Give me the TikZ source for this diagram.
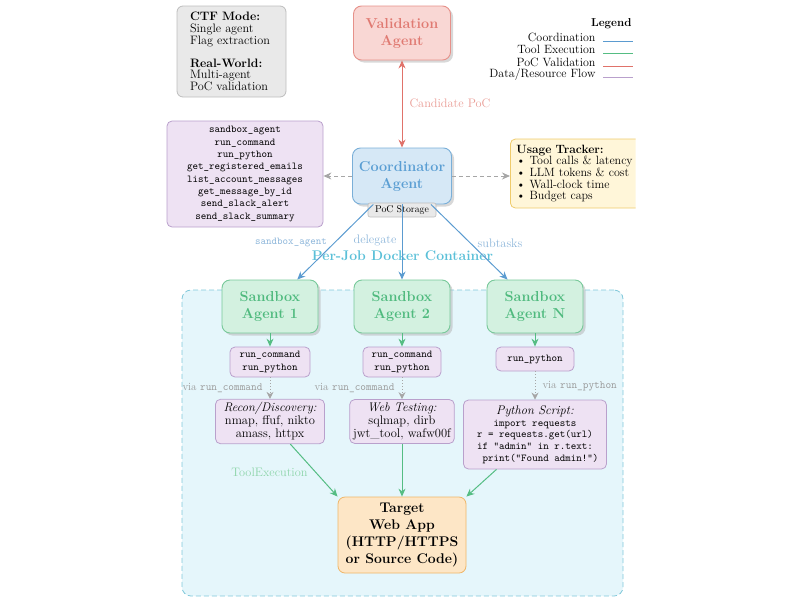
\documentclass[tikz,border=0pt]{standalone}
\usepackage{fontspec}
\usetikzlibrary{arrows.meta,shadows}
\definecolor{cblue}{HTML}{5B9BD0}
\definecolor{cbluetext}{HTML}{5A9ED3}
\definecolor{cbluefill}{HTML}{D6E8F6}
\definecolor{cblueline}{HTML}{7AAFD8}
\definecolor{cbluelabel}{HTML}{8DB6DA}
\definecolor{cred}{HTML}{E0726A}
\definecolor{credline}{HTML}{E6918A}
\definecolor{credtext}{HTML}{E07A72}
\definecolor{credfill}{HTML}{F9D7D4}
\definecolor{credlabel}{HTML}{E99C95}
\definecolor{cgreen}{HTML}{55BD83}
\definecolor{cgreenline}{HTML}{78C99A}
\definecolor{cgreentext}{HTML}{4FBA7E}
\definecolor{cgreenfill}{HTML}{D3F1E0}
\definecolor{cgreenlabel}{HTML}{8ED5AA}
\definecolor{cpurple}{HTML}{B9A0CC}
\definecolor{cpurplefill}{HTML}{EEE2F3}
\definecolor{cgrayfill}{HTML}{E9E9E9}
\definecolor{cgrayline}{HTML}{BDBDBD}
\definecolor{cyellowfill}{HTML}{FFF6D9}
\definecolor{cyellowline}{HTML}{EFCB6B}
\definecolor{corangefill}{HTML}{FDE6C6}
\definecolor{corangeline}{HTML}{EFB668}
\definecolor{ccyan}{HTML}{5BC0D8}
\definecolor{ccyanfill}{HTML}{E5F6FB}
\definecolor{ccyanline}{HTML}{80C8DA}
\definecolor{cgraytext}{HTML}{999999}
\newcommand\setfs[2]{\fontsize{#1}{#2}\selectfont}
\begin{document}
\begin{tikzpicture}[x=1pt,y=-1pt,
  agentbox/.style={draw, line width=0.9pt, rounded corners=8pt, align=center,
    font=\setfs{14.4}{17}\bfseries,
    drop shadow={shadow xshift=2.5pt, shadow yshift=-2.5pt, fill=black!30}},
  purplebox/.style={draw=cpurple, fill=cpurplefill, line width=0.8pt, rounded corners=5pt, align=center},
  ttfont/.style={font=\setfs{10.5}{12.3}\ttfamily},
  coordarrow/.style={draw=cblue, line width=1pt, -{Stealth[length=8pt,width=7pt]}},
  toolarrow/.style={draw=cgreen, line width=1pt, -{Stealth[length=8pt,width=7pt]}},
  pocarrow/.style={draw=cred, line width=1pt, {Stealth[length=8pt,width=7pt]}-{Stealth[length=8pt,width=7pt]}},
  dataarrow/.style={draw=gray!70, line width=1pt, dash pattern=on 4pt off 3pt, -{Stealth[length=8pt,width=7pt]}},
  viaarrow/.style={draw=gray!70, line width=1pt, dotted, -{Stealth[length=7pt,width=7pt]}},
  legtext/.style={anchor=east, font=\setfs{12}{12}},
  lbl/.style={font=\setfs{12.3}{12}},
]
\useasboundingbox (0,0) rectangle (800,600);

% container
\node[draw=ccyanline, fill=ccyanfill, line width=0.8pt, dash pattern=on 5pt off 3pt,
  rounded corners=9pt, minimum width=441, minimum height=306] (dock) at (402.5,443) {};
\node[text=ccyan, font=\setfs{14}{16}\bfseries] (docktitle) at (402.5,256) {Per-Job Docker Container};

% mode box
\node[draw=cgrayline, fill=cgrayfill, line width=0.8pt, rounded corners=6pt,
  minimum width=109, minimum height=91, text width=83, inner xsep=13, align=left,
  font=\setfs{12.2}{11.8}] (mode) at (231.5,51.5)
  {\textbf{CTF Mode:}\\Single agent\\Flag extraction\\[11pt]\textbf{Real-World:}\\Multi-agent\\PoC validation};

% validation agent
\node[agentbox, draw=credline, fill=credfill, text=credtext, minimum width=97, minimum height=54] (val) at (402,33) {Validation\\Agent};

% legend
\node[anchor=east, font=\setfs{11.5}{12}\bfseries] (legtitle) at (635,24) {Legend};
\node[legtext] (l1) at (599,37) {Coordination};
\node[legtext] (l2) at (599,49.5) {Tool Execution};
\node[legtext] (l3) at (599,62) {PoC Validation};
\node[legtext] (l4) at (599,74) {Data/Resource Flow};
\draw[cblue, line width=0.6pt] (l1.base east) ++(4,0) -- ++(30,0);
\draw[cgreen, line width=0.6pt] (l2.base east) ++(4,0) -- ++(30,0);
\draw[cred, line width=0.6pt] (l3.base east) ++(4,0) -- ++(30,0);
\draw[cpurple, line width=0.6pt] (l4.base east) ++(4,0) -- ++(30,0);

% tool list
\node[purplebox, ttfont, minimum width=156, minimum height=106] (tools) at (245,174)
  {sandbox\_agent\\run\_command\\run\_python\\get\_registered\_emails\\list\_account\_messages\\get\_message\_by\_id\\send\_slack\_alert\\send\_slack\_summary};

% coordinator
\node[agentbox, draw=cblueline, fill=cbluefill, text=cbluetext, minimum width=99, minimum height=56] (coord) at (402,176) {Coordinator\\Agent};
\node[draw=cgrayline, fill=cgrayfill, line width=0.6pt, rounded corners=2pt, minimum width=68, minimum height=14, inner sep=1pt, font=\setfs{9.8}{10}] (poc) at (402,210) {PoC Storage};

% usage tracker (clipped at right)
\begin{scope}
  \clip (490,120) rectangle (635.5,230);
  \node[draw=cyellowline, fill=cyellowfill, line width=0.8pt, rounded corners=5pt, anchor=west,
    text width=130, inner xsep=6, minimum height=69, align=left, font=\setfs{12}{11.7}] (usage) at (510,173.5)
    {\textbf{Usage Tracker:}\\\textbullet\ Tool calls \& latency\\\textbullet\ LLM tokens \& cost\\\textbullet\ Wall-clock time\\\textbullet\ Budget caps};
\end{scope}

% sandbox agents
\node[agentbox, draw=cgreenline, fill=cgreenfill, text=cgreentext, minimum width=96, minimum height=53] (sb1) at (270,306.5) {Sandbox\\Agent 1};
\node[agentbox, draw=cgreenline, fill=cgreenfill, text=cgreentext, minimum width=96, minimum height=53] (sb2) at (402,306.5) {Sandbox\\Agent 2};
\node[agentbox, draw=cgreenline, fill=cgreenfill, text=cgreentext, minimum width=96, minimum height=53] (sbn) at (535,306.5) {Sandbox\\Agent N};

% tool boxes
\node[purplebox, ttfont, minimum width=80, minimum height=30] (tb1) at (270,362) {run\_command\\run\_python};
\node[purplebox, ttfont, minimum width=78, minimum height=30] (tb2) at (402,362) {run\_command\\run\_python};
\node[purplebox, ttfont, minimum width=78, minimum height=24] (tbn) at (535,359) {run\_python};

% detail boxes
\node[purplebox, font=\setfs{12.5}{13}, minimum width=109, minimum height=43] (recon) at (270,421.5)
  {\textit{Recon/Discovery:}\\nmap, ffuf, nikto\\amass, httpx};
\node[purplebox, font=\setfs{12.5}{13}, minimum width=103, minimum height=43] (web) at (402,421.5)
  {\textit{Web Testing:}\\sqlmap, dirb\\jwt\_tool, wafw00f};
\node[purplebox, font=\setfs{10.5}{11.7}\ttfamily, minimum width=143, minimum height=69] (py) at (535,434.5)
  {{\rmfamily\itshape\setfs{12.5}{11.7}Python Script:}\\import requests\\r = requests.get(url)\\if "admin" in r.text:\\\phantom{xx}print("Found admin!")};

% target
\node[draw=corangeline, fill=corangefill, line width=0.8pt, rounded corners=7pt, align=center,
  minimum width=128, minimum height=76, font=\setfs{14}{16.7}\bfseries] (target) at (402,535)
  {Target\\Web App\\(HTTP/HTTPS\\or Source Code)};

% connectors
\draw[pocarrow] (coord) -- (val);
\node[lbl, text=credlabel, anchor=west] (candlbl) at (406,103) {Candidate PoC};
\draw[dataarrow] (coord.west) -- (coord.west -| tools.east);
\draw[dataarrow] (coord.east) -- (coord.east -| usage.west);
\draw[coordarrow] (coord) -- (sb1);
\draw[coordarrow] (coord) -- (sb2);
\draw[coordarrow] (coord) -- (sbn);
\node[text=cbluelabel, font=\setfs{10.5}{12}\ttfamily] (sblbl) at (291,242) {sandbox\_agent};
\node[lbl, text=cbluelabel] (dellbl) at (375,240) {delegate};
\node[lbl, text=cbluelabel] (sublbl) at (500,243) {subtasks};

\draw[toolarrow] (sb1) -- (tb1);
\draw[toolarrow] (sb2) -- (tb2);
\draw[toolarrow] (sbn) -- (tbn);

\draw[viaarrow] (tb1) -- (recon);
\draw[viaarrow] (tb2) -- (web);
\draw[viaarrow] (tbn) -- (py);
\node[anchor=east, text=cgraytext, font=\setfs{11}{12}] (via1) at (266,388) {via \texttt{run\_command}};
\node[anchor=east, text=cgraytext, font=\setfs{11}{12}] (via2) at (398,388) {via \texttt{run\_command}};
\node[anchor=west, text=cgraytext, font=\setfs{11}{12}] (via3) at (539,386) {via \texttt{run\_python}};

\draw[toolarrow] (recon) -- (target.north west);
\draw[toolarrow] (web) -- (target);
\draw[toolarrow] (py) -- (target.north east);
\node[lbl, text=cgreenlabel] (telbl) at (269.5,472) {ToolExecution};
\end{tikzpicture}
\end{document}
